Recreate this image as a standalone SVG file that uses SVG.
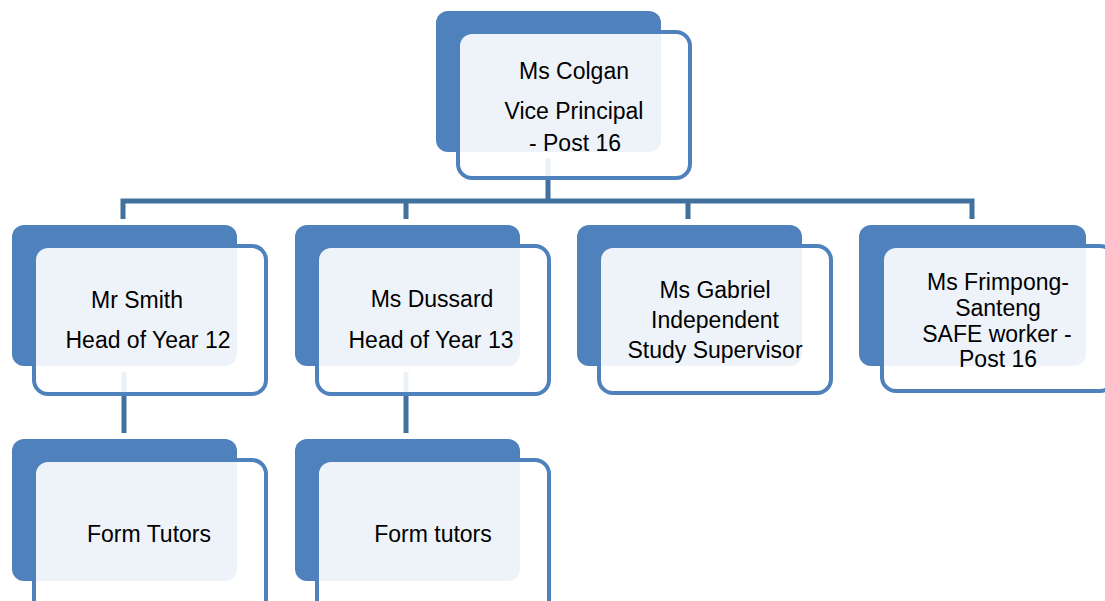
<svg xmlns="http://www.w3.org/2000/svg" width="1105" height="601" viewBox="0 0 1105 601">
<style>
.back{fill:#4F81BD}
.front{fill:#FFFFFF;fill-opacity:0.9;stroke:#4F81BD;stroke-width:4}
.conn{fill:none;stroke:#41719C;stroke-width:5}
text{font-family:"Liberation Sans",Arial,sans-serif;font-size:23px;fill:#000;text-anchor:middle}
</style>
<rect width="1105" height="601" fill="#FFFFFF"/>
<g id="backs">
<rect class="back" x="436" y="11" width="225" height="141" rx="12"/>
<rect class="back" x="12" y="225" width="225" height="141" rx="12"/>
<rect class="back" x="295" y="225" width="225" height="141" rx="12"/>
<rect class="back" x="577" y="225" width="225" height="141" rx="12"/>
<rect class="back" x="859" y="225" width="227" height="141" rx="12"/>
<rect class="back" x="12" y="439" width="225" height="142" rx="12"/>
<rect class="back" x="295" y="439" width="225" height="142" rx="12"/>
</g>
<g id="connectors">
<path class="conn" d="M548 158 V201 M123 219 V201 H972 V219 M406 201 V219 M688 201 V219"/>
<path class="conn" d="M124 372 V433"/>
<path class="conn" d="M406 372 V433"/>
</g>
<g id="node-colgan">
<rect class="front" x="458" y="32" width="232" height="146" rx="14"/>
<text x="574" y="79">Ms Colgan</text>
<text x="574" y="119">Vice Principal</text>
<text x="575" y="151">- Post 16</text>
</g>
<g id="node-smith">
<rect class="front" x="34" y="246" width="232" height="148" rx="14"/>
<text x="137" y="308">Mr Smith</text>
<text x="148" y="348">Head of Year 12</text>
</g>
<g id="node-dussard">
<rect class="front" x="317" y="246" width="232" height="148" rx="14"/>
<text x="432" y="307">Ms Dussard</text>
<text x="431" y="348">Head of Year 13</text>
</g>
<g id="node-gabriel">
<rect class="front" x="599" y="246" width="232" height="147" rx="14"/>
<text x="715" y="298">Ms Gabriel</text>
<text x="715" y="328">Independent</text>
<text x="715" y="358">Study Supervisor</text>
</g>
<g id="node-frimpong">
<rect class="front" x="882" y="246" width="232" height="145" rx="14"/>
<text x="998" y="290">Ms Frimpong-</text>
<text x="998" y="316">Santeng</text>
<text x="997" y="342">SAFE worker -</text>
<text x="998" y="367">Post 16</text>
</g>
<g id="node-form-tutors-12">
<rect class="front" x="34" y="460" width="232" height="160" rx="14"/>
<text x="149" y="542">Form Tutors</text>
</g>
<g id="node-form-tutors-13">
<rect class="front" x="317" y="460" width="232" height="160" rx="14"/>
<text x="433" y="542">Form tutors</text>
</g>
</svg>
